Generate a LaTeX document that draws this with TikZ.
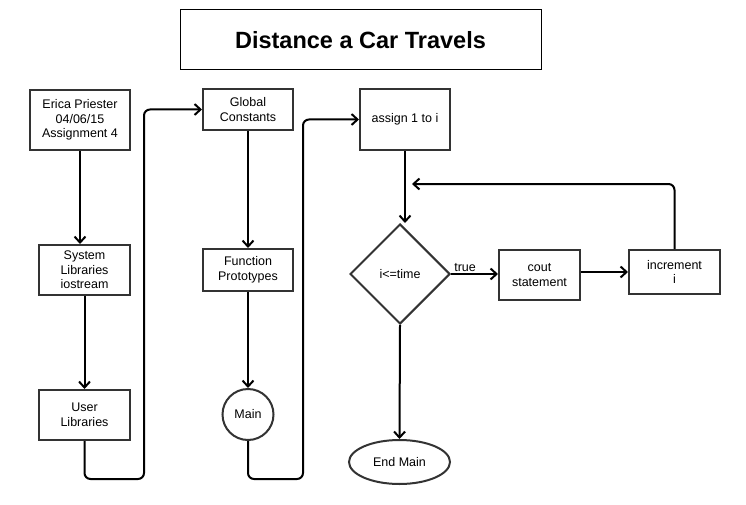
\documentclass[tikz,border=0pt]{standalone}
\usepackage{fontspec}
\setmainfont{Liberation Sans}
\usetikzlibrary{shapes.geometric,arrows.meta}
\begin{document}
\begin{tikzpicture}[x=1pt,y=-1pt,
  box/.style={draw=black!80,line width=2pt,fill=white,align=center,inner sep=0pt,
    font=\fontsize{12.5}{14.5}\selectfont},
  conn/.style={line width=2pt,draw=black,rounded corners=6pt},
  arr/.style={conn,-{Straight Barb[length=6pt,width=11pt,line width=2pt]}},
  lbl/.style={font=\fontsize{12.5}{14.5}\selectfont,inner sep=0pt}]
\useasboundingbox (0,0) rectangle (746,505);
\node[draw=black,line width=1pt,minimum width=361pt,minimum height=60pt,inner sep=0pt,
  font=\fontsize{23.5}{28}\selectfont\bfseries] (title) at (360.5,40) {Distance a Car Travels};
\node[box,minimum width=100pt,minimum height=60pt] (erica) at (80,120) {Erica Priester\\04/06/15\\Assignment 4};
\node[box,minimum width=91pt,minimum height=50pt] (sys) at (84.5,270) {System\\Libraries\\iostream};
\node[box,minimum width=91pt,minimum height=50pt] (user) at (84.5,415) {User\\Libraries};
\node[box,minimum width=90pt,minimum height=41pt] (global) at (248,109.5) {Global\\Constants};
\node[box,minimum width=90pt,minimum height=42pt] (func) at (248,270) {Function\\Prototypes};
\node[box,circle,minimum size=51pt] (main) at (248,414.5) {Main};
\node[box,minimum width=90pt,minimum height=61pt] (assign) at (405,119.5) {assign 1 to i};
\node[box,diamond,minimum width=100pt,minimum height=100pt] (dia) at (400,274) {i<=time};
\node[box,minimum width=81pt,minimum height=50pt] (cout) at (539.5,275) {cout\\statement};
\node[box,minimum width=91pt,minimum height=44pt] (incr) at (674.5,272) {increment\\i};
\node[box,ellipse,minimum width=101pt,minimum height=44pt] (end) at (399.5,462) {End Main};
\coordinate (b1) at (144,479);
\coordinate (b2) at (303,479);
\coordinate (lp) at (412,184);
\draw[arr] (erica.south) -- (erica.south |- sys.north);
\draw[arr] (sys.south) -- (user.north);
\draw[arr] (user.south) |- (b1) |- (global.west);
\draw[arr] (global.south) -- (func.north);
\draw[arr] (func.south) -- (main.north);
\draw[arr] (main.south) |- (b2) |- (assign.west);
\draw[arr] (assign.south) -- (assign.south |- dia.north);
\draw[arr] (dia.east) -- node[lbl,above=1.5pt,pos=0.3] (t) {true} (dia.east -| cout.west);
\draw[arr] (incr.west -| cout.east) -- (incr.west);
\draw[arr] (incr.north) |- (lp);
\draw[arr] (dia.south) -- (end.north);
\end{tikzpicture}
\end{document}
